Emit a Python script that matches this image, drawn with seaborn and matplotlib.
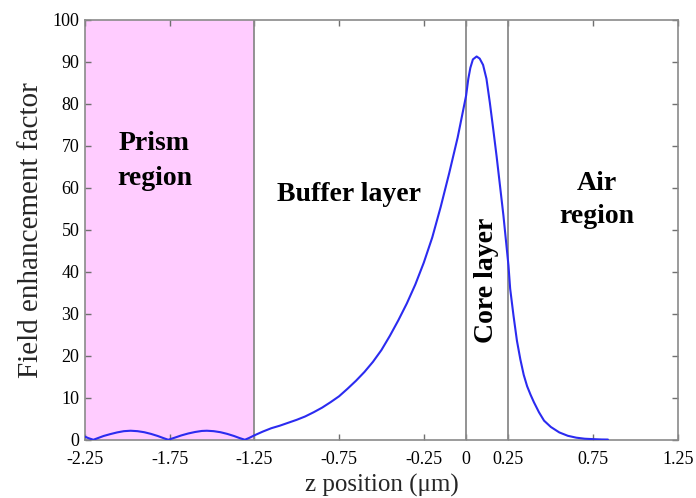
import matplotlib
matplotlib.use("Agg")
import matplotlib.pyplot as plt
import seaborn as sns
import pandas as pd

# ---- data ----
z_um = [-2.25, -2.23, -2.20, -2.17, -2.14, -2.10, -2.06, -2.02, -1.98, -1.94, -1.90,
        -1.86, -1.82, -1.79, -1.758, -1.72, -1.68, -1.64, -1.60, -1.56, -1.53,
        -1.49, -1.45, -1.41, -1.37, -1.34, -1.306, -1.28, -1.25,
        -1.20, -1.15, -1.10, -1.05, -1.00, -0.95, -0.90, -0.85, -0.80, -0.75,
        -0.70, -0.65, -0.60, -0.55, -0.50, -0.45, -0.40, -0.35, -0.30, -0.25,
        -0.20, -0.15, -0.10, -0.05, -0.025, 0.0, 0.013, 0.025, 0.04, 0.062,
        0.08, 0.10, 0.12, 0.14, 0.16, 0.18, 0.20, 0.22, 0.24, 0.25, 0.26,
        0.28, 0.30, 0.32, 0.34, 0.36, 0.38, 0.40, 0.43, 0.46, 0.50, 0.55,
        0.60, 0.65, 0.70, 0.75, 0.80, 0.837]
field = [0.8, 0.45, 0.05, 0.5, 0.95, 1.4, 1.8, 2.1, 2.2, 2.1, 1.85,
         1.45, 0.95, 0.5, 0.05, 0.55, 1.1, 1.55, 1.9, 2.15, 2.2,
         2.1, 1.85, 1.45, 0.95, 0.5, 0.05, 0.5, 1.1,
         2.0, 2.8, 3.4, 4.1, 4.8, 5.6, 6.6, 7.7, 9.0, 10.4,
         12.2, 14.1, 16.2, 18.6, 21.4, 24.8, 28.5, 32.5, 37.0, 42.2,
         48.2, 55.5, 63.5, 72.0, 77.0, 82.0, 86.0, 88.6, 90.6, 91.3,
         90.8, 89.3, 86.0, 80.3, 74.0, 67.5, 60.5, 53.5, 45.5, 41.5, 36.0,
         29.5, 23.6, 19.2, 15.5, 12.8, 10.8, 9.0, 6.6, 4.6, 3.1, 1.8,
         1.0, 0.55, 0.3, 0.2, 0.12, 0.1]

x_ticks = [-2.25, -1.75, -1.25, -0.75, -0.25, 0, 0.25, 0.75, 1.25]
x_tick_labels = ["-2.25", "-1.75", "-1.25", "-0.75", "-0.25", "0", "0.25", "0.75", "1.25"]
y_ticks = [0, 10, 20, 30, 40, 50, 60, 70, 80, 90, 100]

prism_span = [-2.25, -1.25]
boundaries = [-1.25, 0, 0.25]

region_labels = ["Prism\nregion", "Buffer layer", "Core layer", "Air\nregion"]
region_x = [-1.84, -0.69, 0.12, 0.77]
region_y = [66.4, 58.5, 38.0, 57.2]
region_rot = [0, 0, 90, 0]
region_ls = [1.55, 1.3, 1.3, 1.4]

# ---- styling ----
sns.set_theme(style="white")
plt.rcParams["font.family"] = ["Liberation Serif", "DejaVu Serif"]

fig = plt.figure(figsize=(6.96, 4.98), dpi=100)
ax = fig.add_axes([0.122, 0.1165, 0.852, 0.8435])

df = pd.DataFrame({"z": z_um, "f": field})

ax.axvspan(prism_span[0], prism_span[1], color="#FFCCFF", zorder=0, lw=0)
for b in boundaries:
    ax.axvline(b, color="#8a8a8a", lw=1.3, zorder=1)

sns.lineplot(data=df, x="z", y="f", ax=ax, color="#2b2bf0", lw=1.5,
             sort=False, estimator=None, zorder=3)

ax.set_xlim(-2.25, 1.25)
ax.set_ylim(0, 100)
ax.set_xticks(x_ticks)
ax.set_xticklabels(x_tick_labels)
ax.set_yticks(y_ticks)
ax.tick_params(direction="in", length=4, width=1, color="#707070",
               labelsize=13, labelcolor="black", top=True, right=True,
               bottom=True, left=True)
ax.tick_params(axis="x", pad=8)
ax.tick_params(axis="y", pad=4)

for s in ax.spines.values():
    s.set_color("#8a8a8a")
    s.set_linewidth(1.2)

ax.set_xlabel("z position (μm)", fontsize=18, labelpad=4)
ax.set_ylabel("Field enhancement factor", fontsize=21, labelpad=6)

for lab, xx, yy, rot, ls in zip(region_labels, region_x, region_y, region_rot, region_ls):
    ax.text(xx, yy, lab, ha="center", va="center", rotation=rot,
            fontsize=20, fontweight="bold", linespacing=ls, color="black")

fig.savefig("out.png", dpi=100)
